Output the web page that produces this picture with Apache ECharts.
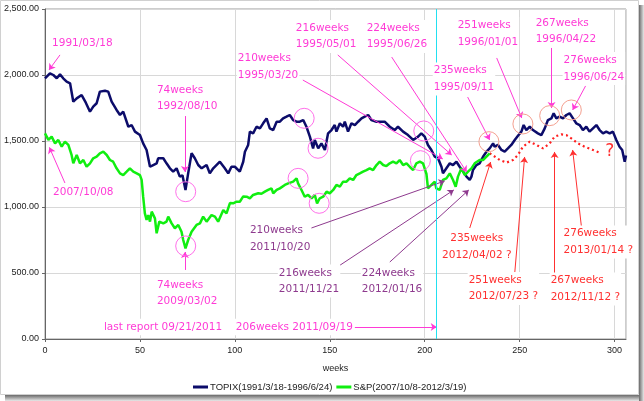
<!DOCTYPE html>
<html><head><meta charset="utf-8">
<script src="https://cdn.jsdelivr.net/npm/echarts@6/dist/echarts.min.js"></script>
<style>html,body{margin:0;padding:0;background:#fff}#c{width:644px;height:401px}</style>
</head><body><div id="c"></div>
<script>
// ---- data (week, value) ----
const topix = [[0,1975],[1,1985],[2.6,2013],[4.4,2000],[6.2,1975],[7.9,2005],[9.6,1975],[11.4,1950],[13.2,1937],[14.9,1798],[16.7,1823],[19.3,1848],[21.5,1790],[23.7,1722],[25.4,1760],[27.2,1786],[28.9,1874],[31.6,1881],[33.3,1874],[35.1,1798],[37.7,1735],[39.5,1697],[41.2,1722],[43.9,1608],[45.6,1621],[47.4,1571],[50,1545],[51.7,1482],[53.5,1432],[55.3,1305],[57,1318],[58.8,1331],[59.6,1369],[62.3,1369],[64,1331],[65.8,1293],[67.5,1268],[69.3,1293],[71,1230],[72.4,1240],[74,1129],[75.4,1255],[77.2,1407],[78.9,1369],[80.7,1318],[82.5,1293],[85.1,1318],[86.8,1255],[88.6,1293],[92.1,1343],[94.7,1293],[96.5,1255],[98.2,1305],[100,1305],[102.6,1268],[104.4,1343],[105.3,1419],[107,1470],[107.9,1571],[109.6,1558],[111.4,1608],[113.2,1596],[114.9,1634],[116.7,1671],[118.4,1596],[120.2,1583],[122,1646],[123.7,1646],[125.4,1671],[127.2,1684],[128.9,1697],[130.7,1659],[132.5,1646],[134.2,1646],[136,1659],[137.7,1608],[139.5,1533],[141.2,1444],[142.1,1508],[143.9,1444],[145.6,1482],[147.4,1432],[149.1,1558],[150.9,1583],[152.6,1621],[153.5,1571],[155.3,1634],[157,1608],[157.9,1646],[159.6,1571],[161.4,1634],[163.2,1621],[164.9,1646],[166.7,1671],[168.4,1684],[170.2,1697],[171.9,1659],[174.6,1646],[177.2,1646],[178.9,1646],[181.6,1608],[184.2,1583],[185.9,1608],[188.6,1571],[191.2,1545],[193.9,1508],[196.5,1533],[198.2,1558],[200,1533],[201.7,1470],[203.5,1432],[205.3,1381],[207,1369],[208.8,1305],[209.6,1255],[211.4,1293],[213.2,1331],[214.9,1318],[216.7,1343],[218.4,1305],[220.2,1268],[222,1230],[223.7,1205],[224.6,1230],[225.4,1280],[227.2,1318],[228.9,1331],[230.7,1381],[232.5,1419],[234.2,1444],[236,1482],[236.8,1457],[238.6,1470],[240.4,1432],[242.1,1420],[243.8,1444],[245.6,1470],[247.4,1508],[249.1,1540],[250.9,1571],[252.1,1621],[253.5,1583],[255.3,1608],[257,1583],[259.6,1558],[261.4,1545],[263.2,1596],[264.9,1659],[266.7,1671],[267.9,1710],[269.3,1671],[271,1684],[272.8,1671],[274.6,1697],[276.3,1710],[278.1,1671],[279.8,1634],[281.6,1621],[283.3,1583],[285.1,1608],[286.8,1571],[288.6,1596],[290.4,1621],[292.1,1583],[293.9,1558],[295.6,1571],[297.4,1558],[299.1,1571],[300.9,1508],[302.6,1457],[304,1432],[305.3,1343],[306,1390]];
const sp = [[0,1558],[1.8,1508],[3.5,1533],[5.3,1482],[7,1508],[8.8,1457],[10.5,1495],[12.3,1470],[14,1394],[14.9,1331],[16.7,1394],[18.4,1331],[20.2,1356],[21.9,1305],[23.7,1331],[25.4,1369],[27.2,1381],[28.9,1407],[30.7,1419],[32.5,1394],[34.2,1356],[35.9,1343],[37.7,1293],[39.5,1255],[41.2,1242],[43,1268],[44.7,1293],[46.5,1268],[48.3,1255],[50,1242],[50.9,1205],[51.7,1078],[52.6,952],[53.5,902],[54.4,939],[55.3,889],[56.2,965],[57.9,914],[58.8,801],[60.2,889],[62.3,876],[64,889],[64.9,927],[66.7,876],[68.4,839],[70.2,864],[71.9,813],[72.8,750],[74,687],[75.4,750],[77.2,813],[79.8,864],[81.6,876],[83.3,927],[85.1,889],[87.7,939],[89.5,927],[91.2,889],[93.9,977],[95.6,952],[97.4,1030],[99.1,1028],[100.9,1040],[102.6,1040],[104.4,1080],[106.2,1078],[107.9,1066],[109.6,1091],[112.3,1104],[114,1100],[115.8,1116],[117.5,1129],[119.3,1141],[120.2,1104],[122,1129],[123.7,1141],[126.3,1167],[128.1,1179],[130.7,1192],[132.5,1217],[133.3,1179],[135.1,1129],[136.8,1078],[138.6,1091],[140.4,1066],[142.1,1091],[143.3,1028],[144.7,1066],[146.5,1078],[148.3,1116],[150,1104],[151.8,1129],[153.5,1167],[155.3,1154],[157,1192],[158.8,1192],[160.5,1217],[162.3,1205],[164,1242],[165.8,1255],[167.5,1268],[169.3,1280],[171,1293],[172.8,1280],[174.6,1318],[176.3,1343],[178.1,1318],[179.8,1310],[181.6,1331],[183.3,1343],[185.1,1331],[186.8,1356],[188.6,1318],[190.4,1331],[192.1,1305],[193.9,1280],[195.6,1331],[197.4,1343],[199.1,1331],[200.9,1250],[201.7,1141],[202.6,1129],[203.5,1167],[205.3,1192],[206.1,1141],[207.9,1129],[209.6,1205],[211.4,1217],[213.2,1255],[214.9,1205],[216.3,1154],[217.5,1230],[219.3,1293],[221.1,1242],[222.8,1268],[224.6,1293],[226.3,1331],[228.9,1356],[230.7,1356],[232.5,1381],[234.2,1407]];
const projection = [[234.2,1407],[236,1390],[239.5,1356],[243,1336],[246.5,1356],[249.1,1394],[251.7,1457],[255.3,1495],[258.8,1470],[262.3,1444],[265.8,1482],[268.4,1533],[271.9,1550],[274.6,1545],[277.2,1520],[280.7,1482],[284.2,1457],[288.6,1432],[292.1,1412]];
const seriesNames = ['TOPIX(1991/3/18-1996/6/24)', 'S&P(2007/10/8-2012/3/19)'];
const lastReportWeek = 206;

// ---- annotations (data coordinates: week, value) ----
const PINK = '#ff3ad6', PURPLE = '#8e3a8e', RED = '#ff3030';
const CIRC_PINK = '#ff70ea', CIRC_SALMON = '#f4a090';
const texts = [
  ['1991/03/18', [3.2,2242], PINK],
  ['74weeks\n1992/08/10', [58.4,1822], PINK],
  ['2007/10/08', [3.7,1114], PINK],
  ['74weeks\n2009/03/02', [58.4,345], PINK],
  ['last report 09/21/2011', [30.5,91], PINK],
  ['206weeks 2011/09/19', [100,91], PINK],
  ['210weeks\n1995/03/20', [101,2061], PINK],
  ['216weeks\n1995/05/01', [131.6,2292], PINK],
  ['224weeks\n1995/06/26', [168.9,2292], PINK],
  ['235weeks\n1995/09/11', [204.2,1970], PINK],
  ['251weeks\n1996/01/01', [216.8,2314], PINK],
  ['267weeks\n1996/04/22', [257.9,2333], PINK],
  ['276weeks\n1996/06/24', [272.6,2049], PINK],
  ['210weeks\n2011/10/20', [107.4,761], PURPLE],
  ['216weeks\n2011/11/21', [122.6,439], PURPLE],
  ['224weeks\n2012/01/16', [166.3,439], PURPLE],
  ['251weeks\n2012/07/23 ?', [222.6,383], RED],
  ['267weeks\n2012/11/12 ?', [265.8,379], RED],
  ['276weeks\n2013/01/14 ?', [272.6,735], RED]
];
const centeredTexts = [
  ['235weeks\n2012/04/02 ?', [227.4,697], RED]
];
const circles = [
  [[74.1,1116], CIRC_PINK],[[136.5,1672], CIRC_PINK],[[143.8,1445], CIRC_PINK],[[199.5,1576], CIRC_PINK],
  [[74.1,705], CIRC_PINK],[[133.3,1217], CIRC_PINK],[[144.4,1028], CIRC_PINK],[[197.7,1351], CIRC_PINK],
  [[233.8,1495], CIRC_SALMON],[[251.7,1629], CIRC_SALMON],[[265.8,1692], CIRC_SALMON],[[277.2,1735], CIRC_SALMON]
];
const arrows = [
  [[7.9,2152],[2.1,2038], PINK],
  [[73.7,1689],[73.7,1265], PINK],
  [[10.5,1182],[2.3,1452], PINK],
  [[73.7,523],[73.7,659], PINK],
  [[163.2,91],[206.3,91], PINK],
  [[135.8,1962],[209.5,1364], PINK],
  [[154.2,2152],[214.2,1394], PINK],
  [[182.6,2136],[222.1,1265], PINK],
  [[222.6,1833],[234.2,1508], PINK],
  [[237.9,2129],[251.1,1674], PINK],
  [[266.8,2205],[266.8,1750], PINK],
  [[284.7,1917],[277.9,1735], PINK],
  [[135.8,818],[210.5,1197], PURPLE],
  [[150,508],[215.3,1129], PURPLE],
  [[181.6,583],[223.2,1129], PURPLE],
  [[223.7,841],[234.7,1341], RED],
  [[247.4,500],[252.6,1379], RED],
  [[268.4,500],[268.4,1417], RED],
  [[282.6,841],[277.9,1432], RED]
];
const questionMark = ['?', [297.4,1417], RED];

const FONT = 'DejaVu Sans';
const AXFONT = 'Liberation Sans';

const mpData = [];
texts.forEach(([t, c, col]) => mpData.push({
  coord: c, symbol: 'circle', symbolSize: 0,
  label: {show: true, position: 'right', distance: 0, formatter: t, color: col,
    fontSize: 10.5, fontFamily: FONT, lineHeight: 16.5, backgroundColor: '#fff', padding: [0, 1]}
}));
centeredTexts.forEach(([t, c, col]) => mpData.push({
  coord: c, symbol: 'circle', symbolSize: 0,
  label: {show: true, position: 'inside', formatter: t, color: col, align: 'center',
    fontSize: 10.5, fontFamily: FONT, lineHeight: 16.5, backgroundColor: '#fff', padding: [0, 1]}
}));
mpData.push({
  coord: questionMark[1], symbol: 'circle', symbolSize: 0,
  label: {show: true, position: 'inside', formatter: questionMark[0], color: questionMark[2],
    fontSize: 17, fontFamily: FONT}
});
circles.forEach(([c, col]) => mpData.push({
  coord: c, symbol: 'circle', symbolSize: 20,
  itemStyle: {color: 'rgba(0,0,0,0)', borderColor: col, borderWidth: 1},
  label: {show: false}
}));
const mlData = arrows.map(([a, b, col]) => [
  {coord: a, lineStyle: {color: col, width: 1, type: 'solid'}},
  {coord: b}
]);

const chart = echarts.init(document.getElementById('c'), null, {renderer: 'canvas'});
chart.setOption({
  animation: false,
  backgroundColor: '#fff',
  grid: {left: 45, right: 18, top: 9, bottom: 62, show: true, borderColor: '#9a9a9a', borderWidth: 1},
  xAxis: {
    type: 'value', min: 0, max: 306, interval: 50,
    name: 'weeks', nameLocation: 'middle', nameGap: 25,
    nameTextStyle: {fontSize: 9, fontFamily: AXFONT, color: '#222'},
    axisLine: {lineStyle: {color: '#666'}},
    axisTick: {show: true, length: 3, lineStyle: {color: '#666'}},
    axisLabel: {fontSize: 9, fontFamily: AXFONT, color: '#222', margin: 7, showMaxLabel: false},
    splitLine: {show: true, lineStyle: {color: '#d8d8d8'}}
  },
  yAxis: {
    type: 'value', min: 0, max: 2500, interval: 500,
    axisLine: {show: true, lineStyle: {color: '#666'}},
    axisTick: {show: true, length: 3, lineStyle: {color: '#666'}},
    axisLabel: {fontSize: 9, fontFamily: AXFONT, color: '#222', margin: 6,
      formatter: v => v.toLocaleString('en-US', {minimumFractionDigits: 2, maximumFractionDigits: 2})},
    splitLine: {show: true, lineStyle: {color: '#d8d8d8'}}
  },
  legend: {
    data: seriesNames, top: 377, left: 188, itemGap: 4,
    icon: 'rect', itemWidth: 15, itemHeight: 3,
    textStyle: {fontSize: 9.5, fontFamily: AXFONT, color: '#222', padding: [0, 0, 0, -3]}
  },
  series: [
    {
      name: 'proj', type: 'line', data: projection, symbol: 'none', z: 3, silent: true,
      lineStyle: {color: '#ff2020', width: 2.2, type: [2, 3]},
      markPoint: {silent: true, label: {show: false}, data: mpData},
      markLine: {silent: true, symbol: ['none', 'arrow'], symbolSize: 6,
        label: {show: false}, lineStyle: {type: 'solid', width: 1}, data: mlData}
    },
    {
      name: seriesNames[0], type: 'line', data: topix, symbol: 'none', z: 4,
      color: '#0c0c6a', lineStyle: {color: '#0c0c6a', width: 2.5},
      markLine: {silent: true, symbol: 'none', label: {show: false},
        lineStyle: {color: '#22e0f0', width: 1, type: 'solid'},
        data: [{xAxis: lastReportWeek}]}
    },
    {
      name: seriesNames[1], type: 'line', data: sp, symbol: 'none', z: 4,
      color: '#10ee10', lineStyle: {color: '#10ee10', width: 2.5}
    }
  ],
  graphic: [
    {type: 'rect', shape: {x: 0.5, y: 0.5, width: 638, height: 394}, style: {fill: 'none', stroke: '#d0d0d0', lineWidth: 1}, silent: true},
    {type: 'rect', shape: {x: 639, y: 5, width: 5, height: 396}, silent: true,
      style: {fill: new echarts.graphic.LinearGradient(0, 0, 1, 0, [{offset: 0, color: '#6a6a6a'}, {offset: 1, color: '#e8e8e8'}])}},
    {type: 'rect', shape: {x: 5, y: 395, width: 634, height: 6}, silent: true,
      style: {fill: new echarts.graphic.LinearGradient(0, 0, 0, 1, [{offset: 0, color: '#6a6a6a'}, {offset: 1, color: '#e8e8e8'}])}}
  ]
});
</script></body></html>
